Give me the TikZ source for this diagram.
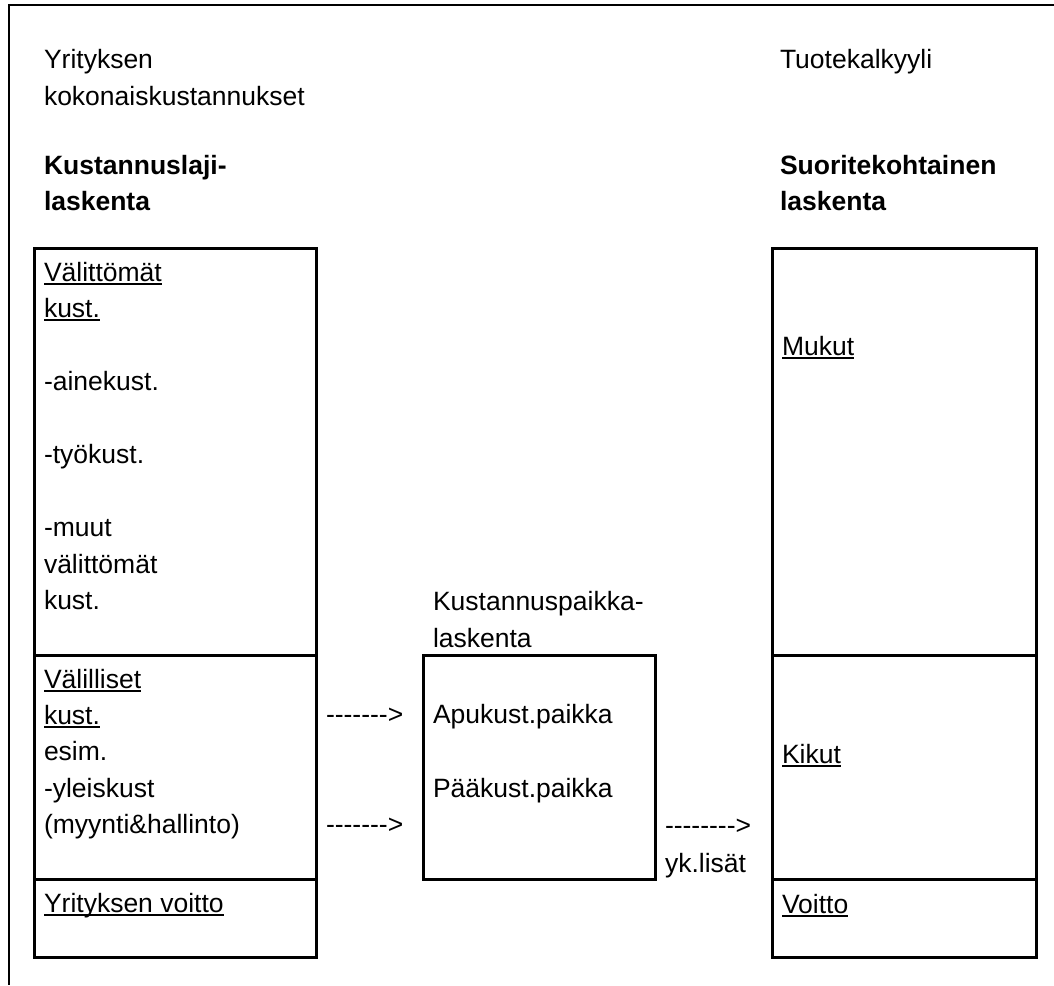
\documentclass[tikz,border=0pt]{standalone}
\usepackage{fontspec}
\setmainfont{Liberation Sans}[Ligatures=TeXOff]
\newcommand\myul[1]{\setbox0=\hbox{#1}\rlap{\rule[-3.7pt]{\wd0}{1.9pt}}\box0}
\begin{document}
\begin{tikzpicture}[x=1pt,y=-1pt,
  txt/.style={anchor=base west,inner sep=0pt,outer sep=0pt,font=\fontsize{26.5}{36}\selectfont},
  btxt/.style={txt,font=\fontsize{26.5}{36}\selectfont\bfseries},
  frame/.style={line width=2.2pt},
  boxline/.style={line width=3pt}]
\useasboundingbox (0,0) rectangle (1054,985);
% outer frame (top and left only)
\coordinate (ftl) at (9,5);
\coordinate (ftr) at (1054,5);
\coordinate (fbl) at (9,985);
\draw[frame] (ftr) -- (ftl) -- (fbl);
% left box
\coordinate (l1) at (34,248);
\coordinate (l2) at (316,957);
\draw[boxline] (l1) rectangle (l2);
\coordinate (ld1a) at (34,655); \coordinate (ld1b) at (316,655);
\coordinate (ld2a) at (34,879); \coordinate (ld2b) at (316,879);
\draw[boxline] (ld1a) -- (ld1b);
\draw[boxline] (ld2a) -- (ld2b);
% middle box
\coordinate (m1) at (423,655);
\coordinate (m2) at (655,879);
\draw[boxline] (m1) rectangle (m2);
% right box
\coordinate (r1) at (772,248);
\coordinate (r2) at (1036,957);
\draw[boxline] (r1) rectangle (r2);
\coordinate (rd1a) at (772,655); \coordinate (rd1b) at (1036,655);
\coordinate (rd2a) at (772,879); \coordinate (rd2b) at (1036,879);
\draw[boxline] (rd1a) -- (rd1b);
\draw[boxline] (rd2a) -- (rd2b);
% left column texts
\node[txt] (t1) at (44,68) {Yrityksen};
\node[txt] (t2) at (44,105) {kokonaiskustannukset};
\node[btxt] (t3) at (44,174) {Kustannuslaji-};
\node[btxt] (t4) at (44,210) {laskenta};
\node[txt] (a1) at (44,281) {\myul{Välittömät}};
\node[txt] (a2) at (44,317.5) {\myul{kust.}};
\node[txt] (a3) at (44,390.5) {-ainekust.};
\node[txt] (a4) at (44,463.5) {-työkust.};
\node[txt] (a5) at (44,536.5) {-muut};
\node[txt] (a6) at (44,573) {välittömät};
\node[txt] (a7) at (44,609.5) {kust.};
\node[txt] (b1) at (44,688) {\myul{Välilliset}};
\node[txt] (b2) at (44,724) {\myul{kust.}};
\node[txt] (b3) at (44,760) {esim.};
\node[txt] (b4) at (44,797) {-yleiskust};
\node[txt] (b5) at (44,833) {(myynti\&hallinto)};
\node[txt] (c1) at (44,912) {\myul{Yrityksen voitto}};
% middle texts
\node[txt] (m3) at (433,610) {Kustannuspaikka-};
\node[txt] (m4) at (433,647) {laskenta};
\node[txt] (m5) at (433,723) {Apukust.paikka};
\node[txt] (m6) at (433,797) {Pääkust.paikka};
\node[txt] (ar1) at (326,723) {------->};
\node[txt] (ar2) at (326,833) {------->};
\node[txt] (ar3) at (665,834) {-------->};
\node[txt] (yk) at (665,872) {yk.lisät};
% right column texts
\node[txt] (s1) at (780,68) {Tuotekalkyyli};
\node[btxt] (s2) at (780,174) {Suoritekohtainen};
\node[btxt] (s3) at (780,210) {laskenta};
\node[txt] (s4) at (782,355) {\myul{Mukut}};
\node[txt] (s5) at (782,763) {\myul{Kikut}};
\node[txt] (s6) at (782,913) {\myul{Voitto}};
\end{tikzpicture}
\end{document}
